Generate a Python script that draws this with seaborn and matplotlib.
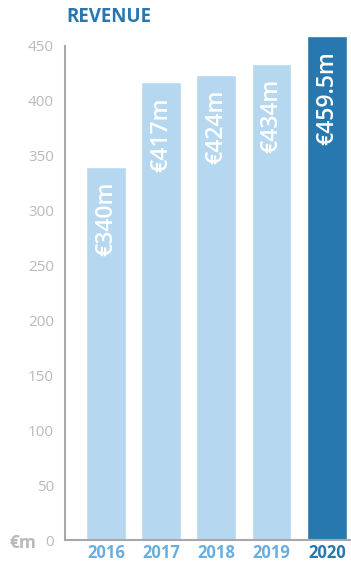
import matplotlib
matplotlib.use("Agg")
import matplotlib.pyplot as plt
import seaborn as sns
import pandas as pd

years = ["2016", "2017", "2018", "2019", "2020"]
revenue = [340, 417, 424, 434, 459.5]
value_labels = ["€340m", "€417m", "€424m", "€434m", "€459.5m"]
y_ticks = [0, 50, 100, 150, 200, 250, 300, 350, 400, 450]

LIGHT = "#b5d8f0"
DARK = "#2878b0"
GREY = "#bababa"
YEAR_LIGHT = "#6aaee0"

sns.set_theme(style="white")
plt.rcParams["font.family"] = ["Open Sans", "DejaVu Sans"]

df = pd.DataFrame({"year": years, "revenue": revenue})
palette = [LIGHT] * (len(years) - 1) + [DARK]

fig = plt.figure(figsize=(3.51, 5.65), dpi=100)
ax = fig.add_axes([65 / 351, 25 / 565, 285 / 351, 507.2 / 565])

sns.barplot(data=df, x="year", y="revenue", hue="year", palette=palette,
            legend=False, width=0.72, saturation=1, ax=ax)

ax.set_xlim(-0.74, 4.42)
ax.set_ylim(0, 462)
ax.set_yticks(y_ticks)
ax.set_yticklabels([str(t) for t in y_ticks], color=GREY, fontsize=11)
ax.tick_params(axis="y", direction="in", length=6, width=1.2, color="#a8a8a8", pad=8)
ax.tick_params(axis="x", length=0, pad=3)
ax.set_xlabel("")
ax.set_ylabel("")

for lbl, yr in zip(ax.get_xticklabels(), years):
    lbl.set_fontweight("bold")
    lbl.set_fontsize(12)
    lbl.set_color(DARK if yr == years[-1] else YEAR_LIGHT)

for side in ("top", "right"):
    ax.spines[side].set_visible(False)
for side in ("left", "bottom"):
    ax.spines[side].set_color("#a8a8a8")
    ax.spines[side].set_linewidth(1.5)
ax.spines["left"].set_bounds(0, 450)

# value labels written vertically inside the top of each bar
for i, (v, txt) in enumerate(zip(revenue, value_labels)):
    ax.annotate(txt, xy=(i, v), xytext=(0, -11), textcoords="offset points",
                rotation=90, ha="center", va="top", color="white",
                fontsize=16.5, fontweight="semibold")

fig.text(66 / 351, 1 - 17 / 565, "REVENUE", color="#2a77b0", fontsize=13.5,
         fontweight="bold", ha="left", va="center")
fig.text(9 / 351, 1 - 543 / 565, "€m", color=GREY, fontsize=12.5,
         fontweight="bold", ha="left", va="center")

fig.savefig("out.png", dpi=100)
